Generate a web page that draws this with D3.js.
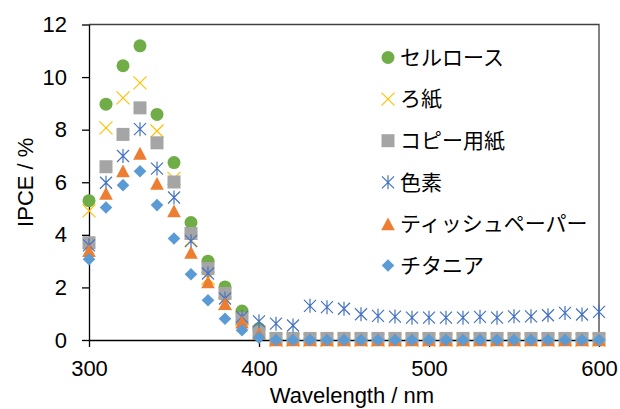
<!DOCTYPE html>
<html>
<head>
<meta charset="utf-8">
<script src="https://cdn.jsdelivr.net/npm/d3@7"></script>
<style>
  body { margin: 0; background: #fff; }
  #chart { width: 620px; height: 409px; }
</style>
</head>
<body>
<div id="chart"></div>
<script>
// wavelengths (nm)
var wavelengths = [300, 310, 320, 330, 340, 350, 360, 370, 380, 390, 400,
    410, 420, 430, 440, 450, 460, 470, 480, 490, 500,
    510, 520, 530, 540, 550, 560, 570, 580, 590, 600]

var seriesNames = ["セルロース", "ろ紙", "コピー用紙", "色素", "ティッシュペーパー", "チタニア"]

var cellulose = [5.3, 8.97, 10.43, 11.19, 8.58, 6.75, 4.47, 3.0, 2.02, 1.1, 0.43,
    0.02, 0.02, 0.02, 0.02, 0.02, 0.02, 0.02, 0.02, 0.02, 0.02,
    0.02, 0.02, 0.02, 0.02, 0.02, 0.02, 0.02, 0.02, 0.02, 0.02]
var filterPaper = [4.91, 8.07, 9.21, 9.78, 7.95, 6.15, 3.8, 2.35, 1.38, 0.8, 0.3,
    0, 0, 0, 0, 0, 0, 0, 0, 0, 0,
    0, 0, 0, 0, 0, 0, 0, 0, 0, 0]
var copyPaper = [3.7, 6.59, 7.82, 8.83, 7.5, 6.01, 4.05, 2.72, 1.77, 0.81, 0.3,
    0.06, 0.06, 0.06, 0.06, 0.06, 0.06, 0.06, 0.06, 0.06, 0.06,
    0.06, 0.06, 0.06, 0.06, 0.06, 0.06, 0.06, 0.06, 0.06, 0.06]
var dye = [3.6, 5.98, 7.0, 8.02, 6.52, 5.42, 3.76, 2.53, 1.58, 0.88, 0.71,
    0.62, 0.55, 1.3, 1.25, 1.19, 0.98, 0.92, 0.89, 0.85, 0.85,
    0.85, 0.85, 0.88, 0.85, 0.9, 0.9, 0.94, 1.03, 0.97, 1.07]
var tissue = [3.4, 5.57, 6.43, 7.1, 5.95, 4.91, 3.33, 2.21, 1.38, 0.68, 0.24,
    0, 0, 0, 0, 0, 0, 0, 0, 0, 0,
    0, 0, 0, 0, 0, 0, 0, 0, 0, 0]
var titania = [3.07, 5.04, 5.89, 6.42, 5.13, 3.86, 2.5, 1.51, 0.81, 0.37, 0.09,
    0, 0, 0, 0, 0, 0, 0, 0, 0, 0,
    0, 0, 0, 0, 0, 0, 0, 0, 0, 0]

var xTicks = [300, 400, 500, 600]
var yTicks = [0, 2, 4, 6, 8, 10, 12]

const width = 620
const height = 409
const plot = { left: 89, right: 599, top: 24.5, bottom: 340 }

var svg = d3.select("#chart")
    .append("svg")
        .attr("width", width)
        .attr("height", height)

const x = d3.scaleLinear().domain([300, 600]).range([plot.left, plot.right])
const y = d3.scaleLinear().domain([0, 12]).range([plot.bottom, plot.top])

// marker paths (centered at 0,0)
function markerPath(kind) {
    var p = d3.path()
    if (kind == "circle") {
        p.arc(0, 0, 6.5, 0, 2 * Math.PI)
    } else if (kind == "square") {
        p.rect(-6.5, -6.5, 13, 13)
    } else if (kind == "triangle") {
        p.moveTo(0, -6.5); p.lineTo(6.8, 6.3); p.lineTo(-6.8, 6.3); p.closePath()
    } else if (kind == "diamond") {
        p.moveTo(0, -6.3); p.lineTo(6.3, 0); p.lineTo(0, 6.3); p.lineTo(-6.3, 0); p.closePath()
    } else if (kind == "x") {
        p.moveTo(-6.5, -6.5); p.lineTo(6.5, 6.5)
        p.moveTo(-6.5, 6.5); p.lineTo(6.5, -6.5)
    } else if (kind == "star") {
        p.moveTo(-6, -6); p.lineTo(6, 6)
        p.moveTo(-6, 6); p.lineTo(6, -6)
        p.moveTo(0, -7); p.lineTo(0, 7)
    }
    return p.toString()
}

var series = [
    { name: seriesNames[0], values: cellulose, kind: "circle", color: "#70AD47" },
    { name: seriesNames[1], values: filterPaper, kind: "x", color: "#FFC000" },
    { name: seriesNames[2], values: copyPaper, kind: "square", color: "#A5A5A5" },
    { name: seriesNames[3], values: dye, kind: "star", color: "#4472C4" },
    { name: seriesNames[4], values: tissue, kind: "triangle", color: "#ED7D31" },
    { name: seriesNames[5], values: titania, kind: "diamond", color: "#5B9BD5" }
]

function styleMarker(sel, s) {
    if (s.kind == "x" || s.kind == "star") {
        sel.attr("fill", "none").attr("stroke", s.color).attr("stroke-width", 1.2)
    } else {
        sel.attr("fill", s.color).attr("stroke", "none")
    }
}

// frame (top and right border)
svg.append("path")
    .attr("d", `M${plot.left},${plot.top}H${plot.right}V${plot.bottom}`)
    .attr("fill", "none")
    .attr("stroke", "#404040")
    .attr("stroke-width", 1.3)

// axes
var xAxis = svg.append("g")
    .attr("transform", `translate(0, ${plot.bottom})`)
    .call(d3.axisBottom(x).tickValues(xTicks).tickSize(7).tickPadding(13).tickSizeOuter(0))
var yAxis = svg.append("g")
    .attr("transform", `translate(${plot.left}, 0)`)
    .call(d3.axisLeft(y).tickValues(yTicks).tickSize(7).tickPadding(15).tickSizeOuter(0))

svg.selectAll(".domain, .tick line")
    .attr("stroke", "#000")
    .attr("stroke-width", 1.3)
svg.selectAll(".tick text")
    .attr("fill", "#000")
    .style("font-family", "'Liberation Sans', Arial, sans-serif")
    .style("font-size", "22px")

// points
series.forEach(function (s) {
    svg.append("g")
        .selectAll("path")
        .data(s.values)
        .enter().append("path")
            .attr("d", markerPath(s.kind))
            .attr("transform", (d, i) => `translate(${x(wavelengths[i])}, ${y(d)})`)
            .call(styleMarker, s)
})

// axis titles
svg.append("text")
    .attr("x", 352)
    .attr("y", 403)
    .attr("text-anchor", "middle")
    .style("font-family", "'Liberation Sans', Arial, sans-serif")
    .style("font-size", "22px")
    .text("Wavelength / nm")

svg.append("text")
    .attr("transform", `translate(33, ${(plot.top + plot.bottom) / 2}) rotate(-90)`)
    .attr("text-anchor", "middle")
    .style("font-family", "'Liberation Sans', Arial, sans-serif")
    .style("font-size", "22px")
    .text("IPCE / %")

// legend
var legend = svg.append("g")
series.forEach(function (s, i) {
    var row = legend.append("g")
        .attr("transform", `translate(388, ${57.5 + i * 41.6})`)
    row.append("path")
        .attr("d", markerPath(s.kind))
        .call(styleMarker, s)
    row.append("text")
        .attr("x", 12)
        .attr("dy", "0.35em")
        .style("font-family", "'Noto Sans CJK JP', sans-serif")
        .style("font-size", "21px")
        .text(s.name)
})
</script>
</body>
</html>
